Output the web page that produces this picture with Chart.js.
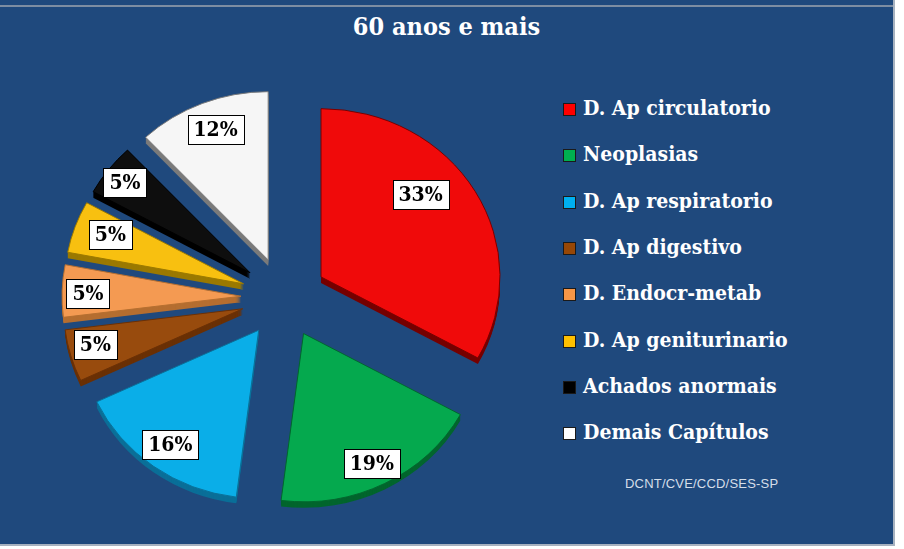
<!DOCTYPE html>
<html><head><meta charset="utf-8">
<script src="https://cdn.jsdelivr.net/npm/chart.js@4.4.1/dist/chart.umd.min.js"></script>
<style>
html,body{margin:0;padding:0;background:#fff;width:904px;height:549px;overflow:hidden}
#frame{position:absolute;left:0;top:0;width:893px;height:544px;background:#1F497D;border-right:2px solid #A7B2C0;border-bottom:2px solid #A7B2C0}
#topline{position:absolute;left:0;top:5px;width:893px;height:2px;background:#7D8DA2}
#title{position:absolute;left:0;width:893px;top:11px;text-align:center;color:#fff;font-weight:bold;font-size:25px;font-family:"DejaVu Serif Condensed","DejaVu Serif",serif;line-height:32px}
.item{position:absolute;left:563px;white-space:nowrap;color:#fff;font-weight:bold;font-size:21px;font-family:"DejaVu Serif Condensed","DejaVu Serif",serif;line-height:24px;height:24px}
.sw{position:absolute;left:0;top:6px;width:11px;height:11px;border:1px solid #1a1a1a}
.txt{position:absolute;left:20px;top:-1px}
#credit{position:absolute;left:625px;top:476px;color:#D5DEE9;font-size:13px;font-family:"Liberation Sans","DejaVu Sans",sans-serif;letter-spacing:0.2px}
canvas{position:absolute;left:0;top:0}
</style></head>
<body>
<div id="frame"></div>
<div id="topline"></div>
<div id="title"></div>
<div id="legend"></div>
<div id="credit"></div>
<canvas id="c" width="904" height="549"></canvas>
<script>
const chartTitle = "60 anos e mais";
const sourceNote = "DCNT/CVE/CCD/SES-SP";
const categories = ["D. Ap circulatorio","Neoplasias","D. Ap respiratorio","D. Ap digestivo","D. Endocr-metab","D. Ap geniturinario","Achados anormais","Demais Capítulos"];
const percentValues = [33,19,16,5,5,5,5,12];
const topColors  = ["#F00A0A","#05A94E","#0AAEE8","#984B0D","#F49A52","#F8C010","#0E0E0E","#F6F6F6"];
const sideColors = ["#760000","#02652D","#0A6F98","#6A3005","#B56E30","#9B7900","#000000","#7A7A7A"];
const legendColors = ["#FF0000","#00B050","#00B0F0","#974706","#F79646","#FFC000","#000000","#FFFFFF"];

document.getElementById('title').textContent = chartTitle;
document.getElementById('credit').textContent = sourceNote;
const leg = document.getElementById('legend');
categories.forEach((c,i)=>{
  const d = document.createElement('div');
  d.className='item';
  d.style.top = (97 + i*46.3) + 'px';
  const s = document.createElement('div'); s.className='sw'; s.style.background=legendColors[i];
  const t = document.createElement('div'); t.className='txt'; t.textContent=c;
  d.appendChild(s); d.appendChild(t); leg.appendChild(d);
});

const SY = 0.94, EXPLODE = 43, DEPTH = 6;
function slicePath(ctx, el){
  ctx.beginPath();
  ctx.moveTo(el.x, el.y);
  ctx.arc(el.x, el.y, el.outerRadius, el.startAngle, el.endAngle);
  ctx.closePath();
}
const pie3d = {
  id:'pie3d',
  beforeDatasetDraw(chart, args, opts){
    const ctx = chart.ctx, meta = args.meta;
    const cx = meta.data[0].x, cy = meta.data[0].y;
    ctx.save();
    ctx.translate(cx, cy); ctx.scale(1, SY); ctx.translate(-cx, -cy);
    meta.data.forEach((el,i)=>{
      const m = (el.startAngle + el.endAngle)/2;
      const dx = Math.cos(m)*EXPLODE, dy = Math.sin(m)*EXPLODE;
      ctx.fillStyle = sideColors[i];
      for(let k=DEPTH;k>=1;k--){
        ctx.save(); ctx.translate(dx, dy + k/SY); slicePath(ctx, el); ctx.fill(); ctx.restore();
      }
    });
    meta.data.forEach((el,i)=>{
      const m = (el.startAngle + el.endAngle)/2;
      ctx.save(); ctx.translate(Math.cos(m)*EXPLODE, Math.sin(m)*EXPLODE);
      el.draw(ctx);
      ctx.restore();
    });
    ctx.restore();
    return false;
  },
  afterDatasetsDraw(chart, args, opts){
    const ctx = chart.ctx, meta = chart.getDatasetMeta(0);
    const data = chart.data.datasets[0].data;
    ctx.save();
    ctx.font = 'bold 21px "DejaVu Serif Condensed","DejaVu Serif",serif';
    ctx.textAlign='center'; ctx.textBaseline='middle';
    meta.data.forEach((el,i)=>{
      const a = el.startAngle + (el.endAngle-el.startAngle)*opts.angleFrac[i];
      const m = (el.startAngle + el.endAngle)/2;
      const r = el.outerRadius*opts.radiusFrac[i];
      const x = el.x + Math.cos(m)*EXPLODE + Math.cos(a)*r;
      const y = el.y + SY*(Math.sin(m)*EXPLODE + Math.sin(a)*r);
      const txt = data[i] + '%';
      const w = Math.round(ctx.measureText(txt).width + 12), h = 29;
      const bx = Math.round(x-w/2)+0.5, by = Math.round(y-h/2)+0.5;
      ctx.fillStyle='#fff'; ctx.fillRect(bx, by, w, h);
      ctx.strokeStyle='#000'; ctx.lineWidth=1; ctx.strokeRect(bx, by, w, h);
      ctx.fillStyle='#000'; ctx.fillText(txt, x, y+1);
    });
    ctx.restore();
  }
};

new Chart(document.getElementById('c'), {
  type:'pie',
  data:{labels:categories, datasets:[{data:percentValues, backgroundColor:topColors, borderColor:sideColors, borderWidth:1, radius:179, offset:0, hoverOffset:0}]},
  options:{
    responsive:false, animation:false, events:[],
    rotation:0,
    layout:{padding:{left:0,right:336,top:46,bottom:0}},
    plugins:{legend:{display:false}, tooltip:{enabled:false}, title:{display:false},
      pie3d:{angleFrac:[0.41,0.51,0.5,0.6,0.45,0.6,0.48,0.52], radiusFrac:[0.74,0.86,0.84,0.85,0.855,0.8,0.88,0.83]}}
  },
  plugins:[pie3d]
});
</script>
</body></html>
